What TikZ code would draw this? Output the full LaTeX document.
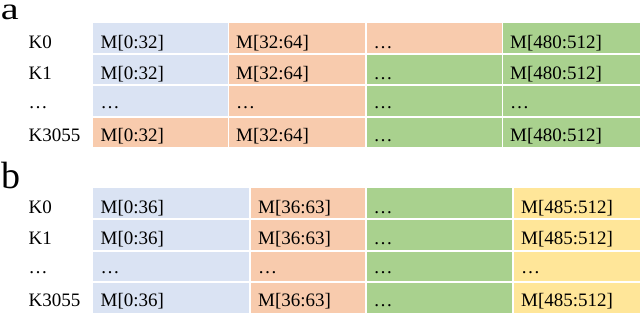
\documentclass[tikz,border=0pt]{standalone}
\usepackage{fontspec}
\setmainfont{Liberation Serif}
\definecolor{cblue}{HTML}{DAE3F3}
\definecolor{corange}{HTML}{F8CBAD}
\definecolor{cgreen}{HTML}{A9D18E}
\definecolor{cyellow}{HTML}{FFE699}
\begin{document}
\begin{tikzpicture}[x=1pt,y=-1pt,
  txt/.style={anchor=base west,inner sep=0pt,font=\fontsize{19}{22}\selectfont},
  panel/.style={anchor=base west,inner sep=0pt},
  sepline/.style={white,line width=1.9pt}]
\useasboundingbox (0,0) rectangle (640,313);

% ---------- panel a ----------
\node[panel,font=\fontsize{31}{34}\selectfont,text height=15pt,text depth=0pt] (la) at (0.8,19.4) {\scalebox{1.3}[1]{a}};
\foreach \r/\ya/\yb/\bl/\lab/\cA/\cB/\cC/\cD/\tA/\tB/\tC/\tD in {
  1/22.7/53.8/48.3/K0/cblue/corange/corange/cgreen/{M[0:32]}/{M[32:64]}/{…}/{M[480:512]},
  2/53.8/85.2/79.8/K1/cblue/corange/cgreen/cgreen/{M[0:32]}/{M[32:64]}/{…}/{M[480:512]},
  3/85.2/116.7/108.8/{…}/cblue/corange/cgreen/cgreen/{…}/{…}/{…}/{…},
  4/116.7/147.3/141.5/K3055/corange/corange/cgreen/cgreen/{M[0:32]}/{M[32:64]}/{…}/{M[480:512]}}{
  \fill[\cA] (93,\ya) rectangle (228.5,\yb);
  \fill[\cB] (228.5,\ya) rectangle (366,\yb);
  \fill[\cC] (366,\ya) rectangle (502.5,\yb);
  \fill[\cD] (502.5,\ya) rectangle (640,\yb);
  \node[txt] (a-k\r) at (28.5,\bl) {\lab};
  \node[txt] (a-\r-1) at (100.5,\bl) {\tA};
  \node[txt] (a-\r-2) at (236,\bl) {\tB};
  \node[txt] (a-\r-3) at (373.5,\bl) {\tC};
  \node[txt] (a-\r-4) at (510,\bl) {\tD};
}
\foreach \x in {228.5,366,502.5} \draw[sepline] (\x,22.7) -- (\x,147.3);
\foreach \y in {53.8,85.2,116.7} \draw[sepline] (93,\y) -- (640,\y);

% ---------- panel b ----------
\node[panel,font=\fontsize{38}{42}\selectfont] (lb) at (1.5,188.3) {b};
\foreach \r/\ya/\yb/\bl/\lab/\tA/\tB/\tC/\tD in {
  1/188.3/219.2/213.2/K0/{M[0:36]}/{M[36:63]}/{…}/{M[485:512]},
  2/219.2/250.8/244.8/K1/{M[0:36]}/{M[36:63]}/{…}/{M[485:512]},
  3/250.8/281.8/273.3/{…}/{…}/{…}/{…}/{…},
  4/281.8/312.5/306.8/K3055/{M[0:36]}/{M[36:63]}/{…}/{M[485:512]}}{
  \fill[cblue] (93,\ya) rectangle (250.3,\yb);
  \fill[corange] (250.3,\ya) rectangle (366,\yb);
  \fill[cgreen] (366,\ya) rectangle (513.4,\yb);
  \fill[cyellow] (513.4,\ya) rectangle (640,\yb);
  \node[txt] (b-k\r) at (28.5,\bl) {\lab};
  \node[txt] (b-\r-1) at (100.5,\bl) {\tA};
  \node[txt] (b-\r-2) at (258,\bl) {\tB};
  \node[txt] (b-\r-3) at (373.5,\bl) {\tC};
  \node[txt] (b-\r-4) at (521,\bl) {\tD};
}
\foreach \x in {250.3,366,513.4} \draw[sepline] (\x,188.3) -- (\x,312.5);
\foreach \y in {219.2,250.8,281.8} \draw[sepline] (93,\y) -- (640,\y);
\end{tikzpicture}
\end{document}
